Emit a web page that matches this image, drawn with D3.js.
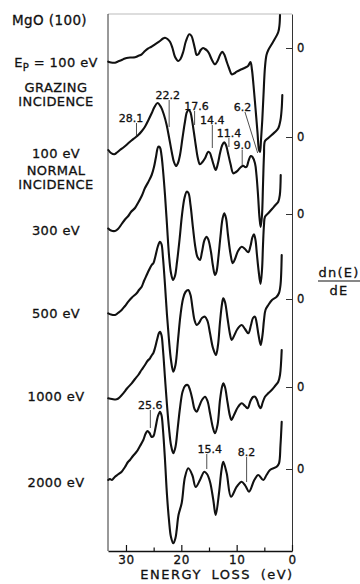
<!DOCTYPE html>
<html><head><meta charset="utf-8">
<script src="https://cdn.jsdelivr.net/npm/d3@7"></script>
<style>
html,body{margin:0;padding:0;background:#fff;}
svg{display:block;}
text{font-family:"DejaVu Sans",sans-serif;fill:#111;stroke:#111;stroke-width:0.3px;}
</style></head><body>
<svg id="chart" width="360" height="584"></svg>
<script>
// Energy-loss axis ticks (eV)
const majorTicks = [30, 20, 10, 0];
const minorTicks = [25, 15, 5];

// Baseline (dn/dE = 0) of each stacked trace, arbitrary units
const zeroLevels = [503, 414, 337, 252, 164, 82];

// Primary-beam energy / geometry for each trace
const beamLabels = [
  ["E_P = 100 eV", "GRAZING", "INCIDENCE"],
  ["100 eV", "NORMAL", "INCIDENCE"],
  ["300 eV"], ["500 eV"], ["1000 eV"], ["2000 eV"]
];

// dn(E)/dE traces: [energy loss (eV), derivative signal (arb. units)]
const grazing100 = [[33.20,-13.7],[32.71,-14.5],[31.99,-14.7],[31.45,-13.5],[30.78,-12],[30.18,-10.5],[29.59,-9.7],[29.10,-9.5],[28.37,-9.3],[27.83,-8],[27.16,-6.3],[26.57,-3],[25.97,-0.3],[25.48,1],[24.76,3.7],[23.86,7],[23.31,9.5],[22.95,10.3],[22.50,9],[22.05,6.3],[21.60,0],[21.15,-8.7],[20.55,-13],[20.15,-11],[19.65,-3.7],[19.16,7],[18.56,13.7],[18.16,12],[17.84,6.3],[17.53,-1],[17.22,-7],[16.90,-6],[16.50,-2],[16.08,0],[15.72,-1],[15.36,-2.5],[15.00,-5.3],[14.46,-12],[13.92,-16.3],[13.46,-13],[13.01,-7],[12.60,-3.7],[12.20,-7],[11.80,-13.7],[11.39,-20],[10.90,-26.3],[10.48,-25.5],[9.99,-23.7],[9.40,-22],[8.49,-19.7],[7.95,-18],[7.50,-14],[7.23,-22],[6.96,-37],[6.60,-60],[6.24,-84],[5.96,-102],[5.78,-104],[5.60,-92],[5.37,-72],[5.15,-47],[4.88,-19],[4.61,-7],[4.28,-2],[3.43,6],[2.48,16],[2.26,23],[2.17,33]];
const normal100 = [[33.20,-13],[32.71,-16],[32.12,-17.3],[31.63,-15.5],[31.09,-13],[30.36,-10],[29.59,-6.3],[29.01,-3.5],[28.37,-0.7],[27.78,2],[27.20,5.5],[26.57,10.3],[25.94,17],[25.36,23.7],[24.85,30],[24.31,34],[23.68,30],[23.13,22],[22.65,12],[22.23,0],[21.74,-14.7],[21.33,-25],[20.96,-29],[20.60,-26],[20.24,-18],[19.79,-1],[19.34,15.3],[18.98,25],[18.62,27],[18.31,24],[18.02,15.3],[17.71,4],[17.40,-8],[17.02,-21],[16.63,-27.3],[16.18,-25],[15.72,-21.3],[15.13,-14.7],[14.82,-16],[14.51,-21.3],[14.15,-28],[13.79,-33],[13.37,-26],[13.01,-16.3],[12.60,-8],[12.24,-5.3],[11.93,-8],[11.62,-14.7],[11.11,-27],[10.61,-36.3],[10.12,-35],[9.71,-33],[9.22,-30],[8.80,-28.7],[8.49,-30],[8.19,-29.7],[7.86,-24],[7.46,-19],[7.14,-20],[6.69,-26.3],[6.42,-38],[6.14,-58],[5.87,-81],[5.66,-90],[5.42,-78],[5.24,-48],[5.06,-18],[4.88,-4],[4.28,-1],[3.67,2],[3.07,5],[2.48,8.7],[2.08,17],[1.86,28.7],[1.75,42]];
const beam300 = [[33.20,-14.5],[32.71,-16.5],[31.99,-17],[31.45,-15],[30.78,-10],[30.18,-5.5],[29.59,-2],[29.10,2],[28.37,6],[27.83,11],[27.16,18],[26.57,26],[25.97,32],[25.36,39],[24.94,47],[24.58,57],[24.16,67.3],[23.86,66.5],[23.59,59],[23.31,44],[22.95,19],[22.59,-11],[22.23,-41],[21.87,-59],[21.51,-66],[21.15,-62],[20.78,-48],[20.33,-26],[19.88,-1],[19.43,16],[19.03,22.3],[18.71,21],[18.34,9],[17.89,-14],[17.44,-34],[17.08,-43],[16.63,-46],[16.27,-38],[15.81,-26],[15.42,-22.7],[15.09,-26],[14.64,-38],[14.28,-52],[13.92,-61],[13.65,-58],[13.28,-42],[12.92,-22],[12.56,-5],[12.24,0.7],[11.93,-4],[11.57,-21],[11.11,-40],[10.72,-49.3],[10.30,-45],[9.76,-37],[9.09,-32.7],[8.49,-35],[7.90,-38.3],[7.50,-32],[7.14,-23],[6.87,-20.3],[6.60,-26],[6.33,-41],[6.05,-56],[5.69,-70],[5.42,-56],[5.24,-31],[5.06,-11],[4.88,-2.7],[4.25,1],[3.61,5],[3.07,8.5],[2.48,12.3],[2.20,19],[2.04,39]];
const beam500 = [[33.20,-14.3],[32.71,-15.5],[31.99,-16],[31.45,-14],[30.78,-11],[30.18,-7],[29.59,-2.7],[28.92,1.5],[28.07,5.7],[27.65,9],[27.16,12.3],[26.75,18],[26.26,24],[25.84,29],[25.36,34],[25.03,36],[24.67,43],[24.22,53],[23.86,57.3],[23.59,55],[23.31,41],[22.95,14],[22.59,-16],[22.23,-41],[21.87,-61],[21.45,-72.7],[21.06,-66],[20.60,-41],[20.15,-16],[19.70,0],[19.25,7],[18.74,9],[18.34,4],[17.98,-9],[17.62,-21],[17.22,-26],[16.81,-24],[16.27,-19],[15.72,-17.7],[15.27,-22],[14.82,-34],[14.28,-49],[13.74,-56],[13.37,-46],[13.01,-23],[12.65,-5],[12.42,0.7],[12.11,-3],[11.66,-19],[11.21,-35],[10.90,-41],[10.48,-37],[9.85,-30],[9.09,-26],[8.49,-30],[7.90,-34.3],[7.41,-26],[7.05,-19],[6.69,-17.7],[6.42,-23],[6.05,-36],[5.66,-46],[5.33,-36],[5.06,-21],[4.79,-11],[4.28,-6],[3.61,-1],[2.77,2.3],[2.35,6],[2.08,14],[1.86,44]];
const beam1000 = [[33.20,-11.3],[32.53,-12],[31.68,-12.3],[31.09,-10],[30.49,-6.3],[29.82,-1.5],[28.97,3.7],[28.37,8],[27.78,12],[27.20,17],[26.57,22],[26.12,26],[25.66,28.7],[25.30,32],[25.07,33.7],[24.76,39],[24.40,47],[24.04,54],[23.86,55.3],[23.59,52],[23.31,37],[22.95,9],[22.59,-18],[22.23,-41],[21.87,-58],[21.45,-66.3],[21.06,-60],[20.69,-43],[20.24,-21],[19.79,-5],[19.34,1],[18.85,2],[18.43,-3],[17.98,-13],[17.62,-22],[17.22,-24.7],[16.81,-20],[16.27,-13],[15.72,-9.7],[15.27,-14],[14.82,-26],[14.28,-41],[13.92,-46.3],[13.46,-38],[13.01,-13],[12.65,0],[12.42,3.7],[12.11,0],[11.66,-15],[11.21,-29],[10.93,-33],[10.48,-28],[9.76,-20],[9.09,-16.3],[8.49,-19],[8.01,-21.3],[7.50,-14],[7.05,-10],[6.69,-9.7],[6.33,-13],[5.96,-19],[5.66,-21.3],[5.33,-16],[4.88,-9.7],[4.25,-6],[3.67,-3],[3.07,1],[2.48,5.3],[2.17,12],[1.86,37]];
const beam2000 = [[33.20,-11],[32.89,-10],[32.53,-11],[31.99,-7.7],[31.45,-5.5],[30.78,-2.7],[30.18,2],[29.64,7],[29.28,9],[28.74,13],[28.07,17.3],[27.47,23],[26.87,29],[26.48,35],[26.12,38],[25.75,36],[25.36,32],[25.03,33],[24.67,41],[24.22,53],[23.86,57.3],[23.59,54],[23.31,39],[22.95,9],[22.59,-26],[22.23,-51],[21.87,-68],[21.45,-74.3],[21.06,-69],[20.84,-61],[20.51,-46],[19.93,-34],[19.34,-8],[18.74,0.7],[18.02,-6],[17.40,-18],[16.63,-11],[15.85,-2.7],[15.36,-5],[14.82,-12.7],[14.22,-31],[13.79,-46],[13.19,-24],[12.74,-1],[12.42,7.3],[11.80,-4.3],[11.02,-27.7],[9.99,-17.7],[9.09,-12.7],[8.40,-17],[7.77,-22.7],[6.81,-11],[6.09,-6],[5.19,-11],[4.61,-6],[3.98,-1],[2.77,2.3],[2.35,5.7],[2.08,24],[1.86,47.3]];

const traces = [grazing100, normal100, beam300, beam500, beam1000, beam2000];

// Marked loss features (eV)
const normalPeaks = [28.1, 22.2, 17.6, 14.4, 11.4, 9.0, 6.2];
const highPeaks = [25.6, 15.4, 8.2];

// ---- drawing ----
const svg = d3.select("#chart");
const frame = {left: 108, right: 292, top: 14, bottom: 551};

const x = d3.scaleLinear().domain([33.25, 0]).range([frame.left, frame.right]);
const y = d3.scaleLinear().domain([0, 537]).range([frame.bottom, frame.top]);

// frame: faint top edge, left edge
svg.append("line")
  .attr("x1", x.range()[0]).attr("x2", x.range()[1])
  .attr("y1", y.range()[1]).attr("y2", y.range()[1])
  .attr("stroke", "#aaa").attr("stroke-width", 0.8);
svg.append("line")
  .attr("x1", x.range()[0]).attr("x2", x.range()[0])
  .attr("y1", y.range()[1]).attr("y2", y.range()[0])
  .attr("stroke", "#333").attr("stroke-width", 1);

// right axis: zero mark of each trace
const yAxis = d3.axisRight(y).tickValues(zeroLevels).tickFormat(() => "0")
  .tickSizeInner(-6).tickSizeOuter(0).tickPadding(5);
const gy = svg.append("g").attr("transform", `translate(${x.range()[1]},0)`).call(yAxis);
gy.select(".domain").attr("stroke", "#333").attr("stroke-width", 1);
gy.selectAll(".tick line").attr("stroke", "#333").attr("stroke-width", 1);
gy.selectAll(".tick text").attr("font-size", 11.5).attr("fill", "#111")
  .style("font-family", "'DejaVu Sans',sans-serif");

// bottom axis
const xAxis = d3.axisBottom(x).tickValues(majorTicks).tickFormat(d3.format("d"))
  .tickSizeInner(-6).tickSizeOuter(0).tickPadding(4);
const gx = svg.append("g").attr("transform", `translate(0,${y.range()[0]})`).call(xAxis);
gx.select(".domain").attr("stroke", "#111").attr("stroke-width", 1.6);
gx.selectAll(".tick line").attr("stroke", "#111").attr("stroke-width", 1.2);
gx.selectAll(".tick text").attr("font-size", 12).attr("fill", "#111")
  .attr("letter-spacing", 0.6)
  .style("font-family", "'DejaVu Sans',sans-serif");

const xMinor = d3.axisBottom(x).tickValues(minorTicks).tickFormat("")
  .tickSizeInner(-3.5).tickSizeOuter(0);
const gm = svg.append("g").attr("transform", `translate(0,${y.range()[0]})`).call(xMinor);
gm.select(".domain").remove();
gm.selectAll(".tick line").attr("stroke", "#111").attr("stroke-width", 1.2);

// traces
const line = (off) => d3.line()
  .x(d => x(d[0]))
  .y(d => y(off + d[1]))
  .curve(d3.curveCatmullRom.alpha(0.5));

traces.forEach((tr, i) => {
  svg.append("path")
    .datum(tr)
    .attr("d", line(zeroLevels[i]))
    .attr("fill", "none")
    .attr("stroke", "#111")
    .attr("stroke-width", 2.1)
    .attr("stroke-linejoin", "round")
    .attr("stroke-linecap", "round");
});

// feature markers with leader lines
function markers(energies, off, layout) {
  energies.forEach((e, i) => {
    const L = layout[i];
    const xTop = x(L.fromE !== undefined ? L.fromE : e);
    svg.append("line")
      .attr("x1", xTop).attr("y1", y(off + L.top))
      .attr("x2", x(e)).attr("y2", y(off + L.bot))
      .attr("stroke", "#222").attr("stroke-width", 0.8);
    svg.append("text")
      .attr("x", xTop + L.dx).attr("y", y(off + L.top) - 1.5)
      .attr("text-anchor", "middle")
      .attr("font-size", 11)
      .text(e.toFixed(1));
  });
}
markers(normalPeaks, zeroLevels[1], [
  {top: 14, bot: 0, dx: -5.5},
  {top: 37, bot: 10, dx: -1.5},
  {top: 26, bot: 12, dx: 2},
  {top: 12, bot: -11, dx: 0},
  {top: -1, bot: -10, dx: 0},
  {top: -13, bot: -28, dx: 0},
  {top: 25, bot: -16, dx: -2.5, fromE: 8.5}
]);
markers(highPeaks, zeroLevels[5], [
  {top: 59, bot: 41, dx: 0},
  {top: 15, bot: 0, dx: 3},
  {top: 12, bot: -13, dx: 0}
]);

// beam energy labels on the left
const labelX = 56;
const labelRows = [[67, 92, 106], [158, 175, 189], [235], [318], [401], [487]];
beamLabels.forEach((rows, i) => {
  rows.forEach((txt, j) => {
    const t = svg.append("text")
      .attr("x", labelX).attr("y", labelRows[i][j])
      .attr("text-anchor", "middle")
      .attr("font-size", 13)
      .attr("letter-spacing", 0.4);
    if (txt.startsWith("E_P")) {
      t.append("tspan").text("E");
      t.append("tspan").attr("font-size", 10).attr("dy", 4).text("P");
      t.append("tspan").attr("dy", -4).text(" = 100 eV");
    } else {
      t.text(txt);
    }
  });
});

// title
svg.append("text").attr("x", 12).attr("y", 25)
  .attr("font-size", 13.5).attr("letter-spacing", 0.4).text("MgO (100)");

// axis titles
svg.append("text").attr("x", 217).attr("y", 579)
  .attr("text-anchor", "middle").attr("font-size", 13)
  .attr("letter-spacing", 1.5).attr("word-spacing", 4)
  .text("ENERGY LOSS (eV)");

const yt = svg.append("g").attr("transform", "translate(339,0)");
yt.append("text").attr("y", 277).attr("text-anchor", "middle")
  .attr("font-size", 13).attr("letter-spacing", 1.2).text("dn(E)");
yt.append("line").attr("x1", -21).attr("x2", 21).attr("y1", 281).attr("y2", 281)
  .attr("stroke", "#111").attr("stroke-width", 1.2);
yt.append("text").attr("y", 295).attr("text-anchor", "middle")
  .attr("font-size", 13).attr("letter-spacing", 1.2).text("dE");
</script>
</body></html>
